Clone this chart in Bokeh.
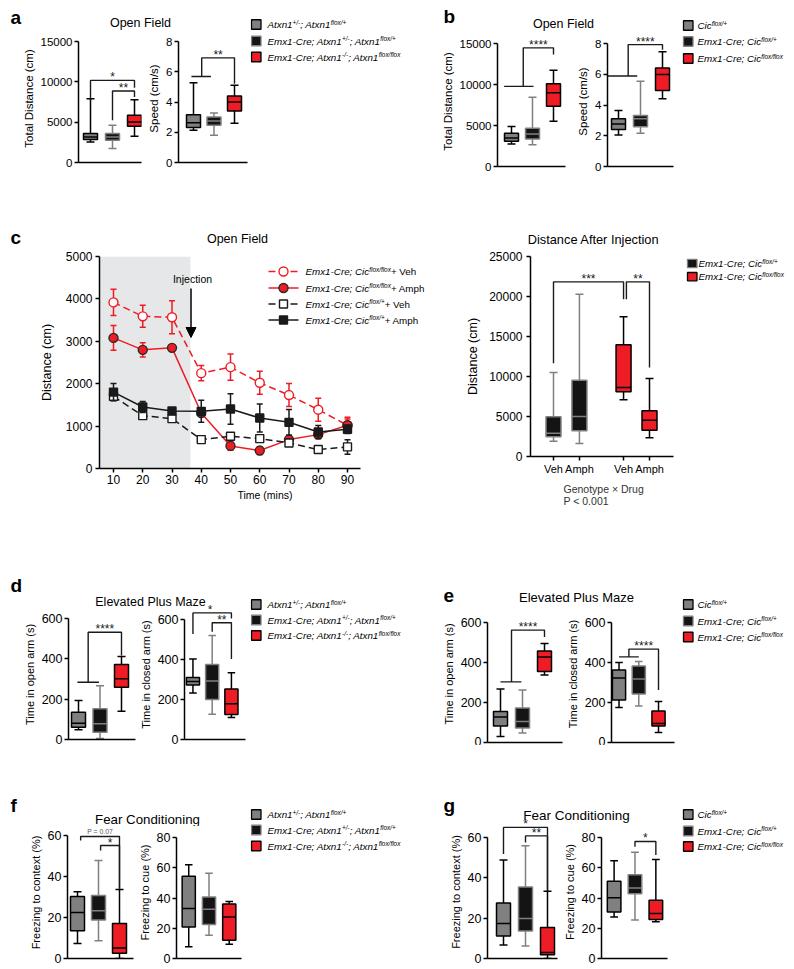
import numpy as np
from bokeh.plotting import figure
from bokeh.models import Range1d, FixedTicker, Label, BoxAnnotation, Arrow, NormalHead, Spacer
from bokeh.layouts import row, column
from bokeh.core.properties import value
from bokeh.embed import file_html
from bokeh.resources import INLINE

FONT = "Liberation Sans"
RED = "#ee1c24"
GREY = "#808080"
DARK = "#141414"
LINE = "#1a1a1a"

# ---------------- data ----------------
# box plots: one [min, Q1, median, Q3, max] per genotype
atxn1_groups = ["Atxn1+/-; Atxn1flox/+", "Emx1-Cre; Atxn1+/-; Atxn1flox/+", "Emx1-Cre; Atxn1-/-; Atxn1flox/flox"]
cic_groups = ["Cicflox/+", "Emx1-Cre; Cicflox/+", "Emx1-Cre; Cicflox/flox"]

a_total_distance = [[2555, 2843, 3173, 3585, 7912], [1731, 2761, 3173, 3585, 4615], [3255, 4492, 5027, 5852, 7788]]
a_speed = [[2.13, 2.31, 2.62, 3.16, 5.27], [1.80, 2.46, 2.75, 3.01, 3.27], [2.60, 3.40, 4.00, 4.40, 5.10]]
b_total_distance = [[2738, 3065, 3474, 4046, 4864], [2657, 3351, 3965, 4659, 8460], [5518, 7357, 8992, 10095, 11730]]
b_speed = [[2.05, 2.40, 2.77, 3.10, 3.64], [2.16, 2.59, 3.10, 3.31, 5.54], [4.40, 4.95, 5.99, 6.41, 7.46]]

time_mins = [10, 20, 30, 40, 50, 60, 70, 80, 90]
ff_veh_mean = [3918, 3589, 3566, 2249, 2390, 2022, 1732, 1387, 1019]
ff_veh_sem = [310, 260, 390, 180, 310, 270, 270, 270, 190]
ff_amph_mean = [3080, 2798, 2845, 1309, 533, 423, 682, 799, 1019]
ff_amph_sem = [290, 170, 70, 60, 100, 90, 80, 100, 150]
fp_veh_mean = [1700, 1246, 1176, 682, 760, 705, 603, 447, 509]
fp_veh_sem = [100, 80, 60, 40, 80, 70, 80, 60, 170]
fp_amph_mean = [1802, 1450, 1356, 1348, 1403, 1191, 1089, 862, 925]
fp_amph_sem = [200, 130, 60, 260, 360, 330, 300, 150, 100]
preinjection_end = 36.3
injection_time = 36.5

drugs = ["Veh", "Amph"]
after_inj_fp = [[1917, 2458, 2917, 4958, 10500], [1625, 3208, 5000, 9542, 20292]]
after_inj_ff = [[7083, 8083, 8625, 13958, 17458], [2333, 3292, 4542, 5708, 9750]]

d_open_arm = [[48, 61, 81, 135, 193], [5, 36, 78, 152, 266], [140, 259, 301, 372, 412]]
d_closed_arm = [[233, 272, 290, 310, 403], [126, 200, 293, 375, 520], [110, 125, 179, 252, 334]]
e_open_arm = [[30, 83, 128, 155, 267], [47, 72, 105, 172, 262], [337, 355, 428, 458, 495]]
e_closed_arm = [[175, 212, 322, 362, 400], [183, 242, 317, 383, 405], [50, 83, 95, 158, 205]]
f_context = [[7.3, 13.5, 22.5, 30.2, 32.6], [8.6, 18.8, 23.3, 30.7, 47.8], [0, 2.6, 5.1, 17.1, 33.6]]
f_cue = [[7.7, 20.8, 33.0, 54.4, 62.0], [15.4, 22.4, 32.5, 40.6, 56.4], [9.4, 12.0, 27.4, 36.0, 37.7]]
g_context = [[6.7, 11.1, 17.4, 27.5, 48.9], [6.2, 13.6, 19.8, 35.4, 55.9], [0, 1.8, 3.0, 15.4, 33.4]]
g_cue = [[27.5, 30.8, 40.2, 51.1, 64.7], [25.4, 42.8, 46.6, 55.3, 70.2], [24.3, 25.8, 29.7, 38.5, 65.4]]

# significance brackets: (label, x paths in group index, y paths in data units)
a_distance_sig = [("*", [[0, 0, 2, 2]], [[7700, 10180, 10180, 9270]]),
                  ("**", [[1, 1, 2, 2]], [[5230, 8860, 8860, 8120]])]
a_speed_sig = [("**", [[-0.1, 0.85], [0.4, 0.4, 2, 2]], [[5.69, 5.69], [5.69, 6.92, 6.92, 5.2]])]
b_distance_sig = [("****", [[-0.35, 1.05], [0.56, 0.56, 2, 2]], [[9768, 9768], [9768, 14469, 14469, 13651]])]
b_speed_sig = [("****", [[-0.5, 0.85], [0.44, 0.44, 2, 2]], [[5.89, 5.89], [5.89, 7.93, 7.93, 7.6]])]
c_after_sig = [("***", [[0, 0, 2, 2]], [[11667, 21833, 21833, 19667]]),
               ("**", [[2.11, 2.11, 3, 3]], [[19667, 21833, 21833, 11125]])]
d_open_sig = [("****", [[-0.05, 0.95], [0.45, 0.45, 2, 2]], [[284, 284], [284, 532, 532, 416]])]
d_closed_sig = [("*", [[0, 0, 2, 2]], [[528, 633, 633, 605]]),
                ("**", [[1, 1, 2, 2]], [[539, 584, 584, 403]])]
e_open_sig = [("****", [[0, 0.95], [0.5, 0.5, 2, 2]], [[303, 303], [303, 562, 562, 528]])]
e_closed_sig = [("****", [[0, 1], [0.5, 0.5, 2, 2]], [[428, 428], [428, 467, 467, 263]])]
f_context_sig = [("P = 0.07", [[0.15, 0.15, 2, 2]], [[57.6, 59.5, 59.5, 34]]),
                 ("*", [[1.1, 1.1, 2, 2]], [[52.7, 55.1, 55.1, 34]])]
g_context_sig = [("*", [[0, 0, 2, 2]], [[51.8, 65, 65, 33.5]]),
                 ("**", [[1, 1, 2, 2]], [[57.5, 60.8, 60.8, 33.5]])]
g_cue_sig = [("*", [[1, 1, 2, 2]], [[73.9, 77.4, 77.4, 68.4]])]

# legend texts: (text, kind) with kind i=italic, s=superscript, u=upright
atxn1_legend = [[("Atxn1", "i"), ("+/-", "s"), ("; Atxn1", "i"), ("flox/+", "s")],
                [("Emx1-Cre; Atxn1", "i"), ("+/-", "s"), ("; Atxn1", "i"), ("flox/+", "s")],
                [("Emx1-Cre; Atxn1", "i"), ("-/-", "s"), ("; Atxn1", "i"), ("flox/flox", "s")]]
cic_legend = [[("Cic", "i"), ("flox/+", "s")],
              [("Emx1-Cre; Cic", "i"), ("flox/+", "s")],
              [("Emx1-Cre; Cic", "i"), ("flox/flox", "s")]]
c_line_legend = [[("Emx1-Cre; Cic", "i"), ("flox/flox", "s"), (" + Veh", "u")],
                 [("Emx1-Cre; Cic", "i"), ("flox/flox", "s"), (" + Amph", "u")],
                 [("Emx1-Cre; Cic", "i"), ("flox/+", "s"), (" + Veh", "u")],
                 [("Emx1-Cre; Cic", "i"), ("flox/+", "s"), (" + Amph", "u")]]
c_box_legend = [[("Emx1-Cre; Cic", "i"), ("flox/+", "s")],
                [("Emx1-Cre; Cic", "i"), ("flox/flox", "s")]]

# ---------------- helpers ----------------
AW = {' ': 278, '+': 584, '-': 333, '/': 278, ';': 278, '.': 278, '(': 333, ')': 333, '<': 584, '=': 584,
      '%': 889, 'A': 667, 'C': 722, 'D': 722, 'E': 667, 'F': 611, 'G': 778, 'I': 278, 'P': 667, 'T': 611,
      'V': 667, 'a': 556, 'c': 500, 'd': 556, 'e': 556, 'f': 278, 'g': 556, 'h': 556, 'i': 222, 'j': 222,
      'l': 222, 'm': 833, 'n': 556, 'o': 556, 'p': 556, 'r': 333, 's': 500, 't': 278, 'u': 556, 'x': 500,
      'y': 500}


def tw(s, size):
    return sum(AW.get(ch, 556) for ch in s) * size / 1000.0


def rich_segments(segs, x, y, size=9.8, sup=6.4):
    out = []
    cx = x
    for txt, kind in segs:
        if kind == "s":
            out.append((txt, cx, y - 2.4, sup, "italic"))
            cx += tw(txt, sup)
        else:
            out.append((txt, cx, y, size, "italic" if kind == "i" else "normal"))
            cx += tw(txt, size)
    return out


def blank_fig(x0, x1, y0, y1):
    p = figure(width=int(x1 - x0), height=int(y1 - y0), x_range=Range1d(x0, x1), y_range=Range1d(y1, y0),
               x_axis_type=None, y_axis_type=None, min_border=0, min_border_left=0, min_border_right=0,
               min_border_top=0, min_border_bottom=0, output_backend="svg", toolbar_location=None, tools="")
    p.outline_line_color = None
    p.background_fill_color = "white"
    p.border_fill_color = "white"
    return p


def put_text(p, txt, x, y, size, style="normal", align="left", color="black"):
    p.text(x=[x], y=[y], text=[txt], text_font=value(FONT), text_font_size=size, text_font_style=style,
           text_align=align, text_baseline="middle", text_color=color)


def strip(x0, x1, y0, y1, items, color="black"):
    p = blank_fig(x0, x1, y0, y1)
    for txt, x, y, size, bold, align in items:
        put_text(p, txt, x, y, size, "bold" if bold else "normal", align, color)
    return p


def legend_fig(x0, x1, y0, y1, entries, ys, sq_x, txt_x):
    p = blank_fig(x0, x1, y0, y1)
    for (segs, fill, edge), yy in zip(entries, ys):
        p.quad(left=[sq_x], right=[sq_x + 9.5], top=[yy - 4.75], bottom=[yy + 4.75],
               fill_color=fill, line_color=edge, line_width=1.3)
        for txt, cx, cy, sz, st in rich_segments(segs, txt_x, yy):
            put_text(p, txt, cx, cy, f"{sz}px", st)
    return p


class Panel:
    def __init__(self, box, frame, xr, yr):
        x0, x1, y0, y1 = box
        l, r, t, b = frame
        self.frame, self.xr, self.yr = frame, xr, yr
        p = figure(width=int(x1 - x0), height=int(y1 - y0), x_range=Range1d(*xr), y_range=Range1d(*yr),
                   min_border_left=int(l - x0), min_border_right=int(x1 - r),
                   min_border_top=int(t - y0), min_border_bottom=int(y1 - b),
                   output_backend="svg", toolbar_location=None, tools="")
        p.outline_line_color = None
        p.grid.visible = False
        p.background_fill_color = "white"
        p.border_fill_color = "white"
        self.p = p

    @property
    def xpx(self):
        l, r = self.frame[:2]
        return (r - l) / (self.xr[1] - self.xr[0])

    @property
    def ypx(self):
        t, b = self.frame[2:]
        return (b - t) / (self.yr[1] - self.yr[0])

    def X(self, px):
        return self.xr[0] + (px - self.frame[0]) / self.xpx

    def Y(self, py):
        return self.yr[0] + (self.frame[3] - py) / self.ypx

    def px(self, x):
        return self.frame[0] + (x - self.xr[0]) * self.xpx

    def py(self, y):
        return self.frame[3] - (y - self.yr[0]) * self.ypx


def style_axis(ax, ticks, label, bounds=None, tick_size="11.5px", label_size="11.5px",
               standoff=2, label_standoff=3):
    ax.ticker = FixedTicker(ticks=ticks, minor_ticks=[])
    if bounds is not None:
        ax.bounds = bounds
    ax.axis_line_color = "black"
    ax.axis_line_width = 1.5
    ax.major_tick_line_color = "black" if ticks else None
    ax.major_tick_line_width = 1.5
    ax.major_tick_in = 0
    ax.major_tick_out = 4 if ticks else 0
    ax.minor_tick_line_color = None
    ax.major_label_text_font = FONT
    ax.major_label_text_font_size = tick_size if ticks else "0px"
    ax.major_label_text_color = "black"
    ax.major_label_standoff = standoff if ticks else 0
    ax.axis_label = label
    ax.axis_label_text_font = FONT
    ax.axis_label_text_font_size = label_size
    ax.axis_label_text_font_style = "normal"
    ax.axis_label_text_color = "black"
    ax.axis_label_standoff = label_standoff if label else 0


def box_panel(box, frame, c0, c2, top_val, top_px, yticks, ylabel, tick_size="11.5px", label_size="11.5px"):
    # frame: page pixels of the plotting area; top_px: page pixel of the top tick value
    l, r, t, b = frame
    unit = (c2 - c0) / 2.0
    xr = (-(c0 - l) / unit, 2 + (r - c2) / unit)
    yend = top_val * (b - t) / (b - top_px)
    P = Panel(box, frame, xr, (0, yend))
    style_axis(P.p.yaxis[0], yticks, ylabel, bounds=(0, top_val), tick_size=tick_size, label_size=label_size)
    style_axis(P.p.xaxis[0], [], None)
    return P


def draw_boxes(P, xs, stats, fills, edges, box_px=14, cap_px=8):
    p = P.p
    w = box_px / P.xpx
    c = cap_px / P.xpx / 2
    lo, q1, md, q3, hi = [list(v) for v in zip(*stats)]
    xs = list(xs)
    p.segment(x0=xs, y0=q3, x1=xs, y1=hi, line_color=edges, line_width=1.5)
    p.segment(x0=xs, y0=lo, x1=xs, y1=q1, line_color=edges, line_width=1.5)
    p.segment(x0=[x - c for x in xs], y0=hi, x1=[x + c for x in xs], y1=hi, line_color=edges, line_width=1.5)
    p.segment(x0=[x - c for x in xs], y0=lo, x1=[x + c for x in xs], y1=lo, line_color=edges, line_width=1.5)
    p.vbar(x=xs, bottom=q1, top=q3, width=w, fill_color=fills, line_color=edges, line_width=1.5)
    p.segment(x0=[x - w / 2 for x in xs], y0=md, x1=[x + w / 2 for x in xs], y1=md,
              line_color=edges, line_width=1.5)


def draw_sig(P, sig, xmap=None, over_fig=None):
    for label, xs, ys in sig:
        if xmap is not None:
            xs = [[xmap(x) for x in xl] for xl in xs]
        P.p.multi_line(xs=xs, ys=ys, line_color=LINE, line_width=1.4)
        top = max(max(yl) for yl in ys)
        tx = [x for xl, yl in zip(xs, ys) for x, y in zip(xl, yl) if y == top]
        xm = (min(tx) + max(tx)) / 2
        if label.startswith("P"):
            size, color, dy = "6.8px", "#555555", 5.3
        else:
            size, color, dy = "12px", LINE, 3.0
        pxm, pym = P.px(xm), P.py(top) - dy
        if over_fig is not None and pym < P.frame[2] + 2:
            put_text(over_fig, label, pxm, pym, size, "normal", "center", color)
        else:
            P.p.add_layout(Label(x=xm, y=P.Y(pym), text=label, text_align="center", text_baseline="middle",
                                 text_font=FONT, text_font_size=size, text_color=color))


FILLS3 = [GREY, DARK, RED]
EDGES3 = ["black", GREY, "black"]
IDX3 = [0, 1, 2]
T2 = "12.5px"   # tick labels of the lower panels
L2 = "11px"     # axis titles of the lower panels

# ---------------- row 1: panels a and b ----------------
stripA = strip(0, 250, 0, 34, [("a", 10, 16.6, "19px", True, "left"), ("Open Field", 140, 22.9, "12.5px", False, "center")])
a1 = box_panel((0, 143, 34, 178), (78, 141, 34, 162), 90, 134, 15000, 41, [0, 5000, 10000, 15000], "Total Distance (cm)")
draw_boxes(a1, IDX3, a_total_distance, FILLS3, EDGES3)
draw_sig(a1, a_distance_sig)
a2 = box_panel((143, 250, 34, 178), (178, 247, 34, 162), 193, 234, 8, 41, [0, 2, 4, 6, 8], "Speed (cm/s)")
draw_boxes(a2, IDX3, a_speed, FILLS3, EDGES3)
draw_sig(a2, a_speed_sig)
legA = legend_fig(250, 408, 0, 178, list(zip(atxn1_legend, FILLS3, EDGES3)), [24, 40.5, 56.5], 251, 267)

stripB = strip(408, 676, 0, 36, [("b", 443, 16.4, "19px", True, "left"), ("Open Field", 563, 23.9, "12.5px", False, "center")])
b1 = box_panel((408, 567, 36, 178), (497, 565, 36, 166), 511, 553, 15000, 43, [0, 5000, 10000, 15000], "Total Distance (cm)")
draw_boxes(b1, IDX3, b_total_distance, FILLS3, EDGES3)
draw_sig(b1, b_distance_sig)
b2 = box_panel((567, 676, 36, 178), (607, 673, 36, 166), 618, 662, 8, 43, [0, 2, 4, 6, 8], "Speed (cm/s)")
draw_boxes(b2, IDX3, b_speed, FILLS3, EDGES3)
draw_sig(b2, b_speed_sig)
legB = legend_fig(676, 792, 0, 178, list(zip(cic_legend, FILLS3, EDGES3)), [25, 41, 58], 683, 697)

row1 = row(column(stripA, row(a1.p, a2.p)), legA, column(stripB, row(b1.p, b2.p)), legB)

# ---------------- row 2: panel c ----------------
stripC = strip(0, 792, 178, 250, [("c", 10, 236.7, "19px", True, "left"),
                                  ("Open Field", 237, 238.9, "12.5px", False, "center"),
                                  ("Distance After Injection", 593, 238.9, "12.8px", False, "center")])

unit_c1 = (347 - 113) / 80.0
c1 = Panel((0, 432, 250, 512), (99, 430, 256, 468),
           (10 - (113 - 99) / unit_c1, 90 + (430 - 347) / unit_c1), (0, 5000))
style_axis(c1.p.yaxis[0], [0, 1000, 2000, 3000, 4000, 5000], "Distance (cm)", tick_size="12px",
           label_size="12.5px", standoff=3, label_standoff=9)
style_axis(c1.p.xaxis[0], time_mins, "Time (mins)", bounds=(c1.xr[0], c1.X(360)), tick_size="12px",
           label_size="10.5px", standoff=2, label_standoff=2)
c1.p.add_layout(BoxAnnotation(right=preinjection_end, bottom=0, top=5000, fill_color="#e6e7e8",
                              fill_alpha=1.0, line_color=None, level="underlay"))

series = [
    (ff_veh_mean, ff_veh_sem, RED, "circle", "white", RED, "7 4", 9),
    (ff_amph_mean, ff_amph_sem, RED, "circle", RED, "#2a2a2a", "solid", 9),
    (fp_veh_mean, fp_veh_sem, LINE, "square", "white", LINE, "7 4", 8),
    (fp_amph_mean, fp_amph_sem, LINE, "square", LINE, LINE, "solid", 8),
]
cw = 3.0 / c1.xpx
for mean, sem, col, mk, mf, me, dash, ms in series:
    lo = [m - s for m, s in zip(mean, sem)]
    hi = [m + s for m, s in zip(mean, sem)]
    c1.p.line(time_mins, mean, line_color=col, line_width=1.5, line_dash=dash)
    c1.p.segment(x0=time_mins, y0=lo, x1=time_mins, y1=hi, line_color=col, line_width=1.5)
    c1.p.segment(x0=[t - cw for t in time_mins], y0=hi, x1=[t + cw for t in time_mins], y1=hi, line_color=col, line_width=1.5)
    c1.p.segment(x0=[t - cw for t in time_mins], y0=lo, x1=[t + cw for t in time_mins], y1=lo, line_color=col, line_width=1.5)
    c1.p.scatter(time_mins, mean, marker=mk, size=ms, fill_color=mf, line_color=me, line_width=1.4)

c1.p.add_layout(Arrow(end=NormalHead(size=10, fill_color="black", line_color="black", line_width=1),
                      x_start=injection_time, y_start=c1.Y(288), x_end=injection_time, y_end=c1.Y(337),
                      line_color="black", line_width=1.5))
c1.p.add_layout(Label(x=c1.X(192), y=c1.Y(278), text="Injection", text_align="center", text_baseline="middle",
                      text_font=FONT, text_font_size="10.5px", text_color="black"))

for (segs, (mean, sem, col, mk, mf, me, dash, ms)), py in zip(zip(c_line_legend, series), [271, 287.5, 303.5, 319.5]):
    ly = c1.Y(py)
    c1.p.line([c1.X(268), c1.X(298)], [ly, ly], line_color=col, line_width=1.5, line_dash=dash)
    c1.p.scatter([c1.X(283)], [ly], marker=mk, size=ms, fill_color=mf, line_color=me, line_width=1.4)
    for txt, cx, cy, sz, st in rich_segments(segs, 305, py):
        c1.p.add_layout(Label(x=c1.X(cx), y=c1.Y(cy), text=txt, text_align="left", text_baseline="middle",
                              text_font=FONT, text_font_size=f"{sz}px", text_font_style=st, text_color="black"))

c2_x = [round(1 + d + 2.7 * g, 3) for g in range(2) for d in range(len(drugs))]
unit_c2 = (649 - 553) / (c2_x[-1] - c2_x[0])
c2 = Panel((432, 680, 250, 478), (530, 673, 256, 456),
           (c2_x[0] - (553 - 530) / unit_c2, c2_x[-1] + (673 - 649) / unit_c2), (0, 25000))
style_axis(c2.p.yaxis[0], [0, 5000, 10000, 15000, 20000, 25000], "Distance (cm)", tick_size="12px",
           label_size="12.5px", standoff=4, label_standoff=6)
style_axis(c2.p.xaxis[0], c2_x, None, tick_size="11px", standoff=2)
c2.p.xaxis[0].major_label_overrides = {x: lab for x, lab in zip(c2_x, drugs * 2)}
draw_boxes(c2, c2_x, after_inj_fp + after_inj_ff, [DARK, DARK, RED, RED], [GREY, GREY, "black", "black"], box_px=15)
draw_sig(c2, c_after_sig, xmap=lambda i: float(np.interp(i, [0, 1, 2, 3], c2_x)))
legC = legend_fig(680, 792, 250, 478, list(zip(c_box_legend, [DARK, RED], [GREY, "black"])), [258, 273], 687, 698)
footC = strip(432, 792, 478, 512, [("Genotype \u00d7 Drug", 563, 488, "10.5px", False, "left"),
                                   ("P < 0.001", 563, 500, "10.5px", False, "left")], color="#333333")

row2 = column(stripC, row(c1.p, column(row(c2.p, legC), footC)))

# ---------------- row 3: panels d and e ----------------
stripD = strip(0, 250, 568, 609, [("d", 10, 585.4, "19px", True, "left"),
                                  ("Elevated Plus Maze", 150, 601.6, "12.5px", False, "center")])
d1 = box_panel((0, 136, 609, 745), (68, 135, 609, 739), 78, 121, 600, 618, [0, 200, 400, 600],
               "Time in open arm (s)", T2, L2)
draw_boxes(d1, IDX3, d_open_arm, FILLS3, EDGES3)
draw_sig(d1, d_open_sig, over_fig=stripD)
d2 = box_panel((136, 250, 609, 745), (180, 245, 609, 739), 189, 230, 600, 619, [0, 200, 400, 600],
               "Time in closed arm (s)", T2, L2)
draw_boxes(d2, IDX3, d_closed_arm, FILLS3, EDGES3)
draw_sig(d2, d_closed_sig, over_fig=stripD)
legD = legend_fig(250, 408, 568, 745, list(zip(atxn1_legend, FILLS3, EDGES3)), [604, 619.5, 635], 251, 267)

stripE = strip(408, 676, 568, 605, [("e", 443, 595.1, "19px", True, "left"),
                                    ("Elevated Plus Maze", 576, 597.3, "13px", False, "center")])
e1 = box_panel((408, 563, 605, 745), (487, 562, 605, 742), 500, 544, 600, 622, [0, 200, 400, 600],
               "Time in open arm (s)", T2, L2)
draw_boxes(e1, IDX3, e_open_arm, FILLS3, EDGES3)
draw_sig(e1, e_open_sig)
e2 = box_panel((563, 676, 605, 745), (607, 674, 605, 742), 615, 657, 600, 622, [0, 200, 400, 600],
               "Time in closed arm (s)", T2, L2)
draw_boxes(e2, IDX3, e_closed_arm, FILLS3, EDGES3)
draw_sig(e2, e_closed_sig)
legE = legend_fig(676, 792, 568, 745, list(zip(cic_legend, FILLS3, EDGES3)), [604, 620.5, 636.5], 683, 697)

row3 = row(column(stripD, row(d1.p, d2.p)), legD, column(stripE, row(e1.p, e2.p)), legE)

# ---------------- row 4: panels f and g ----------------
stripF = strip(0, 250, 765, 826, [("f", 10, 805.4, "19px", True, "left"),
                                  ("Fear Conditioning", 147, 818.9, "13.3px", False, "center")])
f1 = box_panel((0, 135, 826, 967), (67, 133, 826, 958), 77, 119, 60, 835, [0, 20, 40, 60],
               "Freezing to context (%)", T2, L2)
draw_boxes(f1, IDX3, f_context, FILLS3, EDGES3)
draw_sig(f1, f_context_sig, over_fig=stripF)
f2 = box_panel((135, 250, 826, 967), (172, 241, 826, 958), 185, 228, 80, 837, [0, 20, 40, 60, 80],
               "Freezing to cue (%)", T2, L2)
draw_boxes(f2, IDX3, f_cue, FILLS3, EDGES3)
legF = legend_fig(250, 408, 765, 967, list(zip(atxn1_legend, FILLS3, EDGES3)), [814, 829.5, 845.5], 251, 267)

stripG = strip(408, 676, 765, 825, [("g", 443, 805.4, "19px", True, "left"),
                                    ("Fear Conditioning", 576, 814.9, "13.5px", False, "center")])
g1 = box_panel((408, 560, 825, 967), (487, 557, 825, 958), 503, 547, 60, 837, [0, 20, 40, 60],
               "Freezing to context (%)", T2, L2)
draw_boxes(g1, IDX3, g_context, FILLS3, EDGES3)
draw_sig(g1, g_context_sig, over_fig=stripG)
g2 = box_panel((560, 676, 825, 967), (599, 667, 825, 958), 612, 655, 80, 837, [0, 20, 40, 60, 80],
               "Freezing to cue (%)", T2, L2)
draw_boxes(g2, IDX3, g_cue, FILLS3, EDGES3)
draw_sig(g2, g_cue_sig, over_fig=stripG)
legG = legend_fig(676, 792, 765, 967, list(zip(cic_legend, FILLS3, EDGES3)), [814, 830.5, 846], 683, 697)

row4 = row(column(stripF, row(f1.p, f2.p)), legF, column(stripG, row(g1.p, g2.p)), legG)

layout = column(row1, row2, Spacer(width=792, height=56), row3, Spacer(width=792, height=20), row4)

open("out.html", "w").write(file_html(layout, INLINE))
